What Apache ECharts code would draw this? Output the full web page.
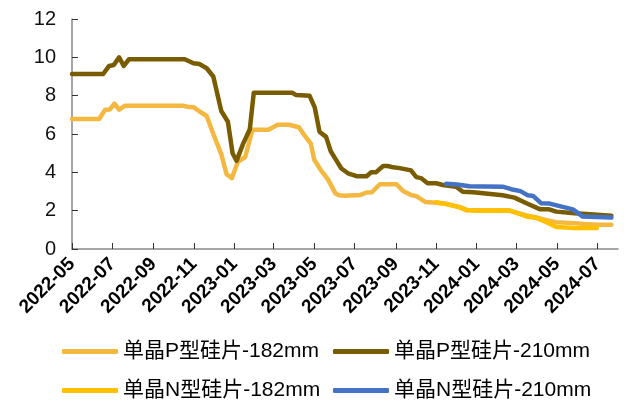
<!DOCTYPE html>
<html>
<head>
<meta charset="utf-8">
<script src="https://cdn.jsdelivr.net/npm/echarts@6/dist/echarts.min.js"></script>
<style>
  html, body { margin: 0; padding: 0; background: #fff; }
  #chart { width: 624px; height: 406px; }
</style>
</head>
<body>
<div id="chart"></div>
<script>
// Wafer price series (yuan per piece), weekly quotes
const seriesNames = ['单晶P型硅片-182mm', '单晶P型硅片-210mm', '单晶N型硅片-182mm', '单晶N型硅片-210mm'];

const p182Dates = ['2022-05-01','2022-06-11','2022-06-20','2022-06-27','2022-07-04','2022-07-11','2022-07-20','2022-10-15','2022-10-22','2022-10-31','2022-11-10','2022-11-20','2022-11-30','2022-12-12','2022-12-20','2022-12-28','2023-01-06','2023-01-17','2023-01-28','2023-02-21','2023-03-07','2023-03-24','2023-04-08','2023-04-17','2023-04-26','2023-05-01','2023-05-11','2023-05-22','2023-06-02','2023-06-08','2023-06-16','2023-07-10','2023-07-19','2023-07-27','2023-08-08','2023-09-02','2023-09-12','2023-09-24','2023-10-02','2023-10-16','2023-11-01','2023-11-16','2023-12-06','2023-12-17','2024-01-05','2024-02-19','2024-03-01','2024-03-16','2024-03-31','2024-04-15','2024-04-30','2024-05-27','2024-06-11','2024-07-01','2024-07-22'];
const p182Values = [6.78,6.78,7.27,7.28,7.58,7.27,7.48,7.48,7.42,7.40,7.16,6.94,6.00,4.95,3.90,3.70,4.55,4.80,6.22,6.22,6.48,6.48,6.35,5.90,5.50,4.67,4.12,3.62,2.90,2.80,2.78,2.82,2.95,2.96,3.38,3.38,3.03,2.82,2.76,2.45,2.41,2.36,2.20,2.04,2.02,2.02,1.90,1.75,1.65,1.50,1.40,1.35,1.30,1.26,1.26];

const p210Dates = ['2022-05-01','2022-06-17','2022-06-26','2022-07-03','2022-07-11','2022-07-18','2022-07-26','2022-10-18','2022-10-31','2022-11-09','2022-11-20','2022-11-30','2022-12-12','2022-12-22','2022-12-29','2023-01-04','2023-01-14','2023-01-24','2023-01-30','2023-03-29','2023-04-04','2023-04-24','2023-05-02','2023-05-09','2023-05-19','2023-05-26','2023-06-03','2023-06-11','2023-06-21','2023-07-04','2023-07-19','2023-07-26','2023-08-02','2023-08-13','2023-08-20','2023-08-28','2023-09-07','2023-09-24','2023-10-02','2023-10-09','2023-10-19','2023-11-01','2023-11-11','2023-12-01','2023-12-11','2023-12-27','2024-02-09','2024-02-27','2024-03-16','2024-04-05','2024-04-18','2024-04-30','2024-05-27','2024-06-09','2024-07-22'];
const p210Values = [9.13,9.13,9.55,9.60,10.00,9.55,9.90,9.90,9.69,9.65,9.43,9.00,7.20,6.64,5.00,4.60,5.50,6.25,8.15,8.15,8.03,8.00,7.38,6.12,5.85,5.10,4.65,4.20,3.95,3.80,3.80,4.00,4.00,4.33,4.33,4.26,4.22,4.10,3.75,3.70,3.43,3.43,3.34,3.25,2.99,2.96,2.80,2.68,2.39,2.08,2.08,1.95,1.87,1.84,1.74];

const n182Dates = ['2023-11-01','2023-11-16','2023-12-06','2023-12-17','2024-01-05','2024-02-19','2024-03-01','2024-03-16','2024-03-31','2024-04-15','2024-04-30','2024-05-27','2024-06-30'];
const n182Values = [2.44,2.34,2.17,2.02,2.00,2.00,1.88,1.70,1.62,1.40,1.15,1.10,1.10];

const n210Dates = ['2023-11-16','2023-12-02','2023-12-21','2024-02-09','2024-02-22','2024-03-07','2024-03-18','2024-03-26','2024-04-07','2024-04-20','2024-05-05','2024-05-25','2024-06-09','2024-07-22'];
const n210Values = [3.41,3.37,3.27,3.25,3.12,3.02,2.80,2.77,2.39,2.37,2.24,2.07,1.69,1.64];

// Axis labels every two months
const tickMonths = ['2022-05','2022-07','2022-09','2022-11','2023-01','2023-03','2023-05','2023-07','2023-09','2023-11','2024-01','2024-03','2024-05','2024-07'];
const axisStart = '2022-05-01';
const axisEnd = '2024-08-01';

const seriesColors = ['#F4B840', '#7A5C00', '#FFC000', '#4472C4'];

// Days elapsed since the first axis date (UTC, so no timezone drift)
function dayIndex(s) {
  const p = s.split('-').map(Number);
  const b = axisStart.split('-').map(Number);
  return (Date.UTC(p[0], p[1] - 1, p[2]) - Date.UTC(b[0], b[1] - 1, b[2])) / 86400000;
}

const tickValues = tickMonths.map(m => dayIndex(m + '-01'));
const tickLabelByDay = {};
tickMonths.forEach((m, i) => { tickLabelByDay[tickValues[i]] = m; });

function toPoints(dates, values) {
  return dates.map((d, i) => [dayIndex(d), values[i]]);
}

const seriesData = [
  toPoints(p182Dates, p182Values),
  toPoints(p210Dates, p210Values),
  toPoints(n182Dates, n182Values),
  toPoints(n210Dates, n210Values)
];

const latinCjk = '"Liberation Sans", Arial, "Noto Sans CJK SC", sans-serif';

function legendAt(name, left, top) {
  return {
    data: [name],
    left: left,
    top: top,
    icon: 'roundRect',
    itemWidth: 56,
    itemHeight: 5,
    padding: 0,
    textStyle: { fontFamily: latinCjk, fontSize: 21, color: '#000' }
  };
}

const chart = echarts.init(document.getElementById('chart'), null, { renderer: 'canvas' });
chart.setOption({
  animation: false,
  backgroundColor: '#fff',
  grid: {
    left: 72, top: 19, width: 546, height: 230,
    containLabel: false,
    outerBoundsMode: 'none'
  },
  legend: [
    legendAt(seriesNames[0], 62, 341),
    legendAt(seriesNames[1], 333, 341),
    legendAt(seriesNames[2], 62, 380),
    legendAt(seriesNames[3], 333, 380)
  ],
  xAxis: {
    type: 'value',
    min: 0,
    max: dayIndex(axisEnd),
    splitLine: { show: false },
    axisLine: { lineStyle: { color: '#888', width: 1.5 } },
    axisTick: { inside: true, length: 6, lineStyle: { color: '#333' }, customValues: tickValues },
    axisLabel: {
      customValues: tickValues,
      rotate: 45,
      margin: 12,
      fontFamily: latinCjk,
      fontSize: 19,
      fontWeight: 'bold',
      color: '#000',
      formatter: v => tickLabelByDay[v] || ''
    }
  },
  yAxis: {
    type: 'value',
    min: 0,
    max: 12,
    interval: 2,
    splitLine: { show: false },
    axisLine: { show: true, lineStyle: { color: '#888', width: 1.5 } },
    axisTick: { show: true, inside: true, length: 6, lineStyle: { color: '#333' } },
    axisLabel: { margin: 16, fontFamily: latinCjk, fontSize: 20, color: '#111' }
  },
  series: seriesNames.map((name, i) => ({
    name: name,
    type: 'line',
    data: seriesData[i],
    showSymbol: false,
    symbol: 'none',
    smooth: false,
    color: seriesColors[i],
    lineStyle: { width: 4.5, color: seriesColors[i], join: 'round', cap: 'round' },
    z: 2 + i
  }))
});
</script>
</body>
</html>
